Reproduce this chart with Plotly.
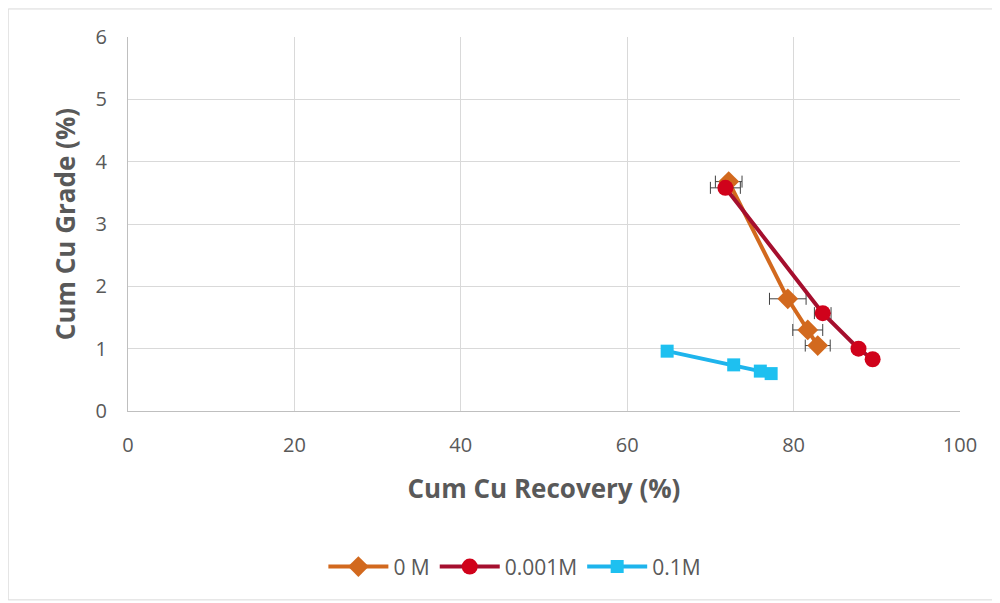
import plotly.graph_objects as go

# cumulative recovery (%) / grade (%)
rec_0m = [72.2, 79.3, 81.7, 82.9]
grade_0m = [3.68, 1.80, 1.30, 1.05]
err_0m = [1.6, 2.2, 1.8, 1.5]

rec_001m = [71.8, 83.5, 87.8, 89.5]
grade_001m = [3.58, 1.57, 1.00, 0.83]
err_001m = [1.8, 1.0, 0, 0]

rec_01m = [64.8, 72.8, 76.0, 77.3]
grade_01m = [0.96, 0.74, 0.64, 0.60]

font = "'Open Sans', sans-serif"
grey = "#595959"

fig = go.Figure()

fig.add_trace(go.Scatter(
    x=rec_0m, y=grade_0m, name="0 M", mode="lines+markers",
    line=dict(color="#D2691E", width=4),
    marker=dict(symbol="diamond", size=16, color="#D2691E"),
    error_x=dict(type="data", array=err_0m, color="#404040", thickness=1, width=6),
))
fig.add_trace(go.Scatter(
    x=rec_001m, y=grade_001m, name="0.001M", mode="lines+markers",
    line=dict(color="#A50F2E", width=4),
    marker=dict(symbol="circle", size=16, color="#D0021B"),
    error_x=dict(type="data", array=err_001m, color="#404040", thickness=1, width=6),
))
fig.add_trace(go.Scatter(
    x=rec_01m, y=grade_01m, name="0.1M", mode="lines+markers",
    line=dict(color="#1EB4EC", width=4),
    marker=dict(symbol="square", size=13, color="#1EC0F0"),
))

# outer chart frame
fig.add_shape(type="rect", xref="paper", yref="paper",
              x0=-0.144, x1=1.046, y0=-0.505, y1=1.075,
              line=dict(color="#D9D9D9", width=1))

fig.update_xaxes(
    range=[0, 100], dtick=20, showgrid=True, gridcolor="#D9D9D9",
    zeroline=False, showline=True, linecolor="#BFBFBF",
    tickfont=dict(size=20, color=grey, family=font), ticklabelstandoff=16,
    title=dict(text="<b>Cum Cu Recovery (%)</b>", standoff=22,
               font=dict(size=26, color=grey, family=font)),
)
fig.update_yaxes(
    range=[0, 6], dtick=1, showgrid=True, gridcolor="#D9D9D9",
    zeroline=False, showline=True, linecolor="#BFBFBF",
    tickfont=dict(size=20, color=grey, family=font), ticklabelstandoff=16,
    title=dict(text="<b>Cum Cu Grade (%)</b>", standoff=12,
               font=dict(size=26, color=grey, family=font)),
)

fig.update_layout(
    width=1000, height=603,
    margin=dict(l=120, r=48, t=29, b=200),
    paper_bgcolor="white", plot_bgcolor="white",
    showlegend=True,
    legend=dict(orientation="h", x=0.465, xanchor="center", y=-0.417, yanchor="middle",
                font=dict(size=21, color=grey, family=font), itemwidth=60),
)

fig.write_html("out.html")
